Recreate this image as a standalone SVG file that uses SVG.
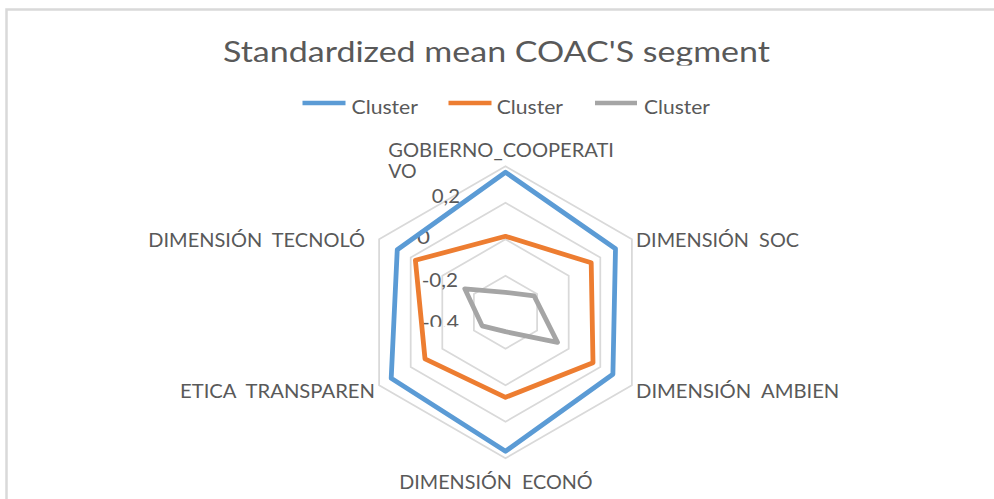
<svg xmlns="http://www.w3.org/2000/svg" width="994" height="499" viewBox="0 0 994 499">
  <style>
    .txt { font-family: Lato, "Open Sans", "Liberation Sans", sans-serif; fill: #595959; white-space: pre; }
    .title { font-size: 29.5px; }
    .leg { font-size: 19.5px; }
    .cat { font-size: 19.5px; }
    .val { font-size: 18.5px; }
    .grid { fill: none; stroke: #d9d9d9; stroke-width: 1.75; }
    .series { fill: none; stroke-width: 4.8; stroke-linejoin: round; }
    .s1 { stroke: #5b9bd5; }
    .s2 { stroke: #ed7d31; }
    .s3 { stroke: #a5a5a5; }
  </style>
  <defs>
    <clipPath id="titleClip"><rect x="0" y="0" width="994" height="65.5"/></clipPath>
    <clipPath id="valClip"><rect x="0" y="0" width="994" height="326.8"/></clipPath>
  </defs>

  <rect width="994" height="499" fill="#ffffff"/>
  <!-- chart area frame -->
  <rect x="6.5" y="9.5" width="1000" height="520" fill="none" stroke="#d9d9d9" stroke-width="2.5"/>

  <!-- title -->
  <g id="title" clip-path="url(#titleClip)">
    <text class="txt title" x="223" y="61.7" textLength="547" lengthAdjust="spacingAndGlyphs">Standardized mean COAC'S segment</text>
  </g>

  <!-- legend -->
  <g id="legend">
    <line x1="302.5" y1="103" x2="345.5" y2="103" class="s1" stroke-width="4.5"/>
    <text class="txt leg" x="351.5" y="114" textLength="66.5" lengthAdjust="spacingAndGlyphs">Cluster</text>
    <line x1="448.5" y1="103" x2="491.5" y2="103" class="s2" stroke-width="4.5"/>
    <text class="txt leg" x="496.7" y="114" textLength="66.3" lengthAdjust="spacingAndGlyphs">Cluster</text>
    <line x1="595" y1="103" x2="637" y2="103" class="s3" stroke-width="4.5"/>
    <text class="txt leg" x="644" y="114" textLength="66" lengthAdjust="spacingAndGlyphs">Cluster</text>
  </g>

  <!-- radar grid rings (-0,4 at centre, step 0,2) -->
  <g id="grid">
    <polygon class="grid" points="505.5,166.3 631.9,239.3 631.9,385.3 505.5,458.3 379.1,385.3 379.1,239.3"/>
    <polygon class="grid" points="505.5,202.8 600.3,257.55 600.3,367.05 505.5,421.8 410.7,367.05 410.7,257.55"/>
    <polygon class="grid" points="505.5,239.3 568.7,275.8 568.7,348.8 505.5,385.3 442.3,348.8 442.3,275.8"/>
    <polygon class="grid" points="505.5,275.8 537.1,294.05 537.1,330.55 505.5,348.8 473.9,330.55 473.9,294.05"/>
  </g>

  <!-- value axis labels -->
  <g id="value-axis">
    <text class="txt val" x="431.7" y="203.3" textLength="28.3" lengthAdjust="spacingAndGlyphs">0,2</text>
    <text class="txt val" x="417" y="244" textLength="13" lengthAdjust="spacingAndGlyphs">0</text>
    <text class="txt val" x="421.7" y="286.7" textLength="36.3" lengthAdjust="spacingAndGlyphs">-0,2</text>
    <text class="txt val" x="422" y="328.5" textLength="37" lengthAdjust="spacingAndGlyphs" clip-path="url(#valClip)">-0,4</text>
  </g>

  <!-- category labels -->
  <g id="cat-gobierno">
    <text class="txt cat" x="388.3" y="157.3" textLength="225.7" lengthAdjust="spacingAndGlyphs">GOBIERNO_COOPERATI</text>
    <text class="txt cat" x="388.3" y="178.3" textLength="28.4" lengthAdjust="spacingAndGlyphs">VO</text>
  </g>
  <g id="cat-social">
    <text class="txt cat" x="636" y="246.7" textLength="163" lengthAdjust="spacingAndGlyphs">DIMENSIÓN  SOC</text>
  </g>
  <g id="cat-ambiental">
    <text class="txt cat" x="636" y="398.3" textLength="203.3" lengthAdjust="spacingAndGlyphs">DIMENSIÓN  AMBIEN</text>
  </g>
  <g id="cat-economica">
    <text class="txt cat" x="399.3" y="489.3" textLength="193.4" lengthAdjust="spacingAndGlyphs">DIMENSIÓN  ECONÓ</text>
  </g>
  <g id="cat-etica">
    <text class="txt cat" x="180" y="398.3" textLength="195" lengthAdjust="spacingAndGlyphs">ETICA  TRANSPAREN</text>
  </g>
  <g id="cat-tecnologica">
    <text class="txt cat" x="148.3" y="246.7" textLength="216.7" lengthAdjust="spacingAndGlyphs">DIMENSIÓN  TECNOLÓ</text>
  </g>

  <!-- data series -->
  <g id="series">
    <polygon id="cluster-1" class="series s1" points="505.5,172.3 615.5,248.8 612.9,374.3 505.5,451.3 391.2,378.3 397.25,249.8"/>
    <polygon id="cluster-2" class="series s2" points="505.5,236.3 591.2,262.8 593,362.8 505.5,397.3 425,358.8 415.4,260.3"/>
    <polygon id="cluster-3" class="series s3" points="505.5,292.3 534.1,295.8 557.5,342.3 505.5,331.7 482.1,325.8 464.8,288.8"/>
  </g>
</svg>
